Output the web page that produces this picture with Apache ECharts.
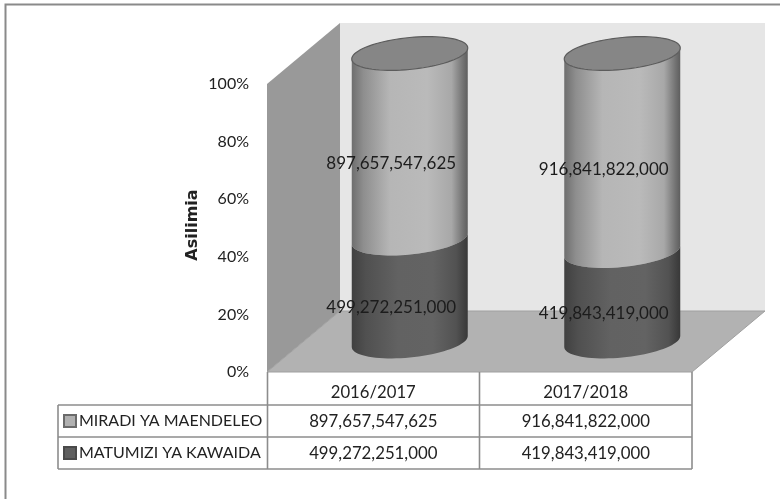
<!DOCTYPE html>
<html>
<head>
<meta charset="utf-8">
<style>html,body{margin:0;padding:0;background:#fff}#c{width:780px;height:499px}</style>
<script src="https://cdn.jsdelivr.net/npm/echarts@6/dist/echarts.min.js"></script>
</head>
<body>
<div id="c"></div>
<script>
var categories = ['2016/2017', '2017/2018'];
var seriesNames = ['MIRADI YA MAENDELEO', 'MATUMIZI YA KAWAIDA'];
var miradi = [897657547625, 916841822000];
var matumizi = [499272251000, 419843419000];
var yTicks = [0, 20, 40, 60, 80, 100];

var FONT = 'Lato, "Open Sans", sans-serif';
var DEPTH_X = 73, DEPTH_Y = 61;   // 3D depth of the box
var RX = 58, RY = 16, SHEAR = 5.5; // cylinder ellipse
function fmt(v) { return String(v).replace(/\B(?=(\d{3})+$)/g, ','); }
function pct(i, v) { return v / (miradi[i] + matumizi[i]) * 100; }

function ring(cx, cy, from, to, n) {
  var pts = [];
  for (var k = 0; k <= n; k++) {
    var t = from + (to - from) * k / n;
    pts.push([cx + RX * Math.cos(t), cy - SHEAR * Math.cos(t) + RY * Math.sin(t)]);
  }
  return pts;
}
function bodyGrad(stops) {
  return new echarts.graphic.LinearGradient(0, 0, 1, 0, stops);
}
var lightStops = [
  {offset: 0, color: '#6e6e6e'}, {offset: 0.1, color: '#8e8e8e'}, {offset: 0.33, color: '#b6b6b6'},
  {offset: 0.65, color: '#bababa'}, {offset: 0.86, color: '#a8a8a8'}, {offset: 0.96, color: '#727272'}, {offset: 1, color: '#5e5e5e'}
];
var darkStops = [
  {offset: 0, color: '#404040'}, {offset: 0.12, color: '#505050'}, {offset: 0.4, color: '#626262'},
  {offset: 0.7, color: '#636363'}, {offset: 0.9, color: '#525252'}, {offset: 1, color: '#383838'}
];

function cylinderItem(stops, isTop) {
  return function (params, api) {
    var i = api.value(0);
    var start = api.coord([i, api.value(1)]);
    var end = api.coord([i, api.value(2)]);
    var cx = start[0] + DEPTH_X / 2;
    var y0 = start[1] - DEPTH_Y / 2;
    var y1 = end[1] - DEPTH_Y / 2;
    // front arc at the bottom, then the front arc of the upper edge going back
    var pts = ring(cx, y0, 0, Math.PI, 40).concat(ring(cx, y1, Math.PI, 0, 40));
    var children = [{
      type: 'polygon', shape: {points: pts},
      style: {fill: bodyGrad(stops), stroke: null}
    }];
    if (isTop) {
      children.push({
        type: 'polygon', shape: {points: ring(cx, y1, 0, Math.PI * 2, 80)},
        style: {fill: '#868686', stroke: '#5c5c5c', lineWidth: 1.2}
      });
    }
    return {type: 'group', children: children};
  };
}

function wallsItem(params) {
  var c = params.coordSys, l = c.x, t = c.y, r = c.x + c.width, b = c.y + c.height;
  return {type: 'group', silent: true, children: [
    {type: 'polygon', shape: {points: [[l + DEPTH_X, t - DEPTH_Y], [r + DEPTH_X, t - DEPTH_Y], [r + DEPTH_X, b - DEPTH_Y], [l + DEPTH_X, b - DEPTH_Y]]}, style: {fill: '#e6e6e6'}},
    {type: 'polygon', shape: {points: [[l, t], [l + DEPTH_X, t - DEPTH_Y], [l + DEPTH_X, b - DEPTH_Y], [l, b]]}, style: {fill: '#999999'}},
    {type: 'polygon', shape: {points: [[l, b], [r, b], [r + DEPTH_X, b - DEPTH_Y], [l + DEPTH_X, b - DEPTH_Y]]}, style: {fill: '#b2b2b2', stroke: '#a0a0a0', lineWidth: 1}}
  ]};
}

function tableItem(params) {
  var c = params.coordSys, l = c.x, r = c.x + c.width, b = c.y + c.height;
  var mid = l + c.width / 2, tL = 58;
  var rows = [b + 33, b + 65, b + 97];
  var line = function (x1, y1, x2, y2) {
    return {type: 'line', shape: {x1: x1, y1: y1, x2: x2, y2: y2}, style: {stroke: '#8c8c8c', lineWidth: 1.6}};
  };
  return {type: 'group', silent: true, children: [
    line(l + 0.5, b, l + 0.5, rows[2]), line(mid, b, mid, rows[2]), line(r, b, r, rows[2]),
    line(tL, rows[0], r, rows[0]), line(tL, rows[1], r, rows[1]), line(tL, rows[2], r, rows[2]), line(tL, rows[0], tL, rows[2])
  ]};
}

function tableText(params, api) {
  var i = api.value(0);
  var x = api.coord([i, 0])[0];
  var b = api.coord([i, 0])[1];
  var style = function (t, y) {
    return {type: 'text', x: x, y: y, style: {text: t, fill: '#222', font: '16.8px ' + FONT, align: 'center', verticalAlign: 'middle'}};
  };
  return {type: 'group', children: [style(fmt(miradi[i]), b + 50), style(fmt(matumizi[i]), b + 82)]};
}

function dataLabels(params, api) {
  var i = api.value(0);
  var a = pct(i, matumizi[i]);
  var mk = function (val, centre) {
    var p = api.coord([i, centre]);
    return {type: 'text', x: p[0] + 18, y: p[1] - 13, style: {text: fmt(val), fill: '#1c1c1c', font: '17px ' + FONT, align: 'center', verticalAlign: 'middle'}};
  };
  return {type: 'group', children: [mk(matumizi[i], a / 2), mk(miradi[i], a + (100 - a) / 2)]};
}

var idx = categories.map(function (_, i) { return i; });
var chart = echarts.init(document.getElementById('c'), null, {renderer: 'canvas'});
chart.setOption({
  animation: false,
  backgroundColor: '#ffffff',
  grid: {left: 267, top: 84, width: 425, height: 288, containLabel: false},
  graphic: [{type: 'polyline', silent: true, shape: {points: [[5.5, 499], [5.5, 4.5], [780, 4.5]]}, style: {stroke: '#8a8a8a', lineWidth: 2, fill: null}}],
  legend: {
    orient: 'vertical', left: 63, top: 413, itemWidth: 12, itemHeight: 12, itemGap: 16, icon: 'rect',
    data: seriesNames, selectedMode: false,
    textStyle: {fontFamily: FONT, fontSize: 16, lineHeight: 12, color: '#222', padding: [0, 0, 0, -2]},
    padding: 0
  },
  xAxis: {
    type: 'category', data: categories,
    axisLine: {show: false}, axisTick: {show: false},
    axisLabel: {fontFamily: FONT, fontSize: 16.7, color: '#222', margin: 12}
  },
  yAxis: {
    type: 'value', min: 0, max: 100, interval: 20,
    name: 'Asilimia', nameLocation: 'middle', nameGap: 66, nameMoveOverlap: false,
    nameTextStyle: {fontFamily: '"DejaVu Sans", sans-serif', fontSize: 16, fontWeight: 'bold', color: '#222', padding: [0, 0, 0, 6]},
    axisLine: {show: false}, axisTick: {show: false}, splitLine: {show: false},
    axisLabel: {fontFamily: FONT, fontSize: 16, color: '#222', margin: 18, formatter: '{value}%', padding: [2, 0, 0, 0]}
  },
  series: [
    {type: 'custom', name: 'walls', renderItem: wallsItem, data: [[0]], z: 1, silent: true},
    {type: 'custom', name: seriesNames[1], renderItem: cylinderItem(darkStops, false), z: 3,
      itemStyle: {color: '#5f5f5f', borderColor: '#4a4a4a', borderWidth: 1},
      encode: {x: 0, y: 2},
      data: idx.map(function (i) { return [i, 0, pct(i, matumizi[i])]; })},
    {type: 'custom', name: seriesNames[0], renderItem: cylinderItem(lightStops, true), z: 2,
      itemStyle: {color: '#b0b0b0', borderColor: '#6a6a6a', borderWidth: 1},
      encode: {x: 0, y: 2},
      data: idx.map(function (i) { return [i, pct(i, matumizi[i]), 100]; })},
    {type: 'custom', name: 'table', renderItem: tableItem, data: [[0]], z: 4, silent: true},
    {type: 'custom', name: 'tableValues', renderItem: tableText, data: idx.map(function (i) { return [i]; }), z: 5, silent: true},
    {type: 'custom', name: 'labels', renderItem: dataLabels, data: idx.map(function (i) { return [i]; }), z: 6, silent: true}
  ]
});
</script>
</body>
</html>
